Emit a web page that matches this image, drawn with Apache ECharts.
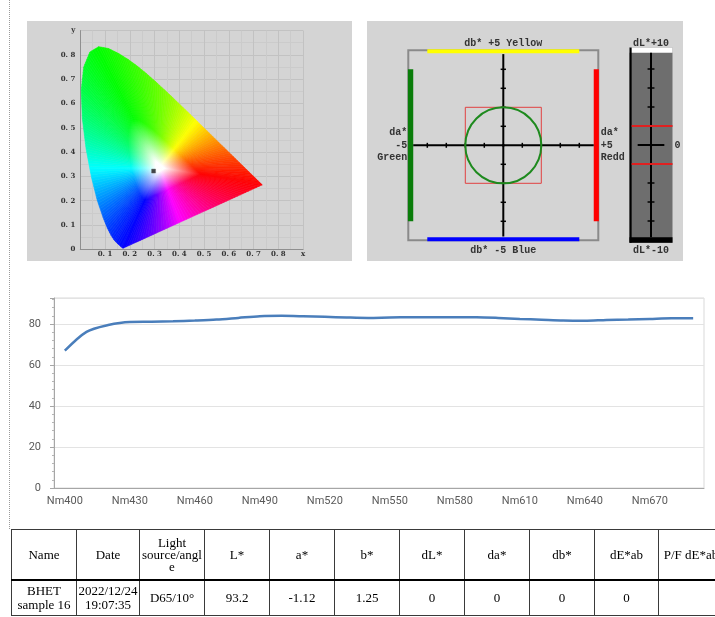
<!DOCTYPE html>
<html>
<head>
<meta charset="utf-8">
<script src="https://cdn.jsdelivr.net/npm/echarts@6/dist/echarts.min.js"></script>
<style>
  html, body { margin: 0; padding: 0; background: #fff; width: 715px; height: 617px; overflow: hidden; }
  .panel { position: absolute; background: #d4d4d4; }
  #dots { position: absolute; left: 9px; top: 0; height: 529px; border-left: 1px dotted #9a9a9a; }
  #chart { position: absolute; left: 0; top: 0; width: 715px; height: 617px; }
  #tbl { position: absolute; left: 11px; top: 529px; border-collapse: collapse; table-layout: fixed; width: 712px;
         font-family: "Liberation Serif", "Times New Roman", serif; font-size: 13px; color: #000; }
  #tbl td { border: 1px solid #3a3a3a; text-align: center; vertical-align: middle; padding: 0 1px;
            word-break: normal; overflow-wrap: anywhere; }
  #tbl tr.head td { height: 49px; line-height: 12px; border-bottom: 2px solid #000; }
  #tbl tr.row td { height: 34px; line-height: 14px; }
</style>
</head>
<body>
<div class="panel" style="left:27px;top:21px;width:325px;height:240px;"></div>
<div class="panel" style="left:367px;top:21px;width:316px;height:240px;"></div>
<div id="dots"></div>
<div id="chart"></div>
<table id="tbl"></table>
<script>
// spectral curve
const waveNm = [400, 410, 420, 430, 440, 450, 460, 470, 480, 490, 500, 510, 520, 530, 540,
                550, 560, 570, 580, 590, 600, 610, 620, 630, 640, 650, 660, 670, 680, 690];
const reflectance = [67.0, 76.2, 79.5, 81.0, 81.1, 81.3, 81.7, 82.2, 83.0, 83.8, 84.0, 83.8, 83.5, 83.2, 83.0,
                     83.2, 83.3, 83.3, 83.3, 83.3, 83.0, 82.5, 82.1, 81.7, 81.6, 82.0, 82.2, 82.5, 82.8, 82.8];
const categories = waveNm.map(w => 'Nm' + w);

// CIE 1931 spectral locus (380 .. 700 nm)
const locusX = [0.1741, 0.1733, 0.1714, 0.1689, 0.1644, 0.1566, 0.1440, 0.1355, 0.1241, 0.1096, 0.0913,
                0.0687, 0.0454, 0.0235, 0.0082, 0.0039, 0.0139, 0.0389, 0.0743, 0.1142, 0.1547, 0.1929,
                0.2296, 0.2658, 0.3016, 0.3373, 0.3731, 0.4087, 0.4441, 0.4788, 0.5125, 0.5448, 0.5752,
                0.6029, 0.6270, 0.6658, 0.6915, 0.7079, 0.7190, 0.7260, 0.7347];
const locusY = [0.0050, 0.0048, 0.0051, 0.0069, 0.0109, 0.0177, 0.0297, 0.0399, 0.0578, 0.0868, 0.1327,
                0.2007, 0.2950, 0.4127, 0.5384, 0.6548, 0.7502, 0.8120, 0.8338, 0.8262, 0.8059, 0.7816,
                0.7543, 0.7243, 0.6923, 0.6589, 0.6245, 0.5896, 0.5547, 0.5202, 0.4866, 0.4544, 0.4242,
                0.3965, 0.3725, 0.3340, 0.3083, 0.2920, 0.2809, 0.2740, 0.2653];
const sampleXY = [0.296, 0.322];

// colour difference
const sampleDa = [0];
const sampleDb = [0];
const sampleDL = [0];
const abTicks = [-4, -3, -2, -1, 1, 2, 3, 4];
const dLTicks = [-8, -6, -4, 4, 6, 8];
const abTolerance = 2;
const dLTolerance = 2;

// table
const tableHead = ['Name', 'Date', 'Light source/\u2060angle', 'L*', 'a*', 'b*', 'dL*', 'da*', 'db*', 'dE*ab', 'P/F dE*ab'];
const tableRow = ['BHET sample 16', '2022/12/24 19:07:35', 'D65/10°', '93.2', '-1.12', '1.25', '0', '0', '0', '0', ''];
const colWidths = [65, 63, 65, 65, 65, 65, 65, 65, 65, 64, 65];

// build table
(function () {
  const t = document.getElementById('tbl');
  let h = '<colgroup>' + colWidths.map(w => '<col style="width:' + w + 'px">').join('') + '</colgroup>';
  h += '<tr class="head">' + tableHead.map(s => '<td>' + s + '</td>').join('') + '</tr>';
  h += '<tr class="row">' + tableRow.map(s => '<td>' + s + '</td>').join('') + '</tr>';
  t.innerHTML = h;
})();

// hue by angle round the white point
const whiteXY = [0.32, 0.335];
const hueAngles = [-9, 52, 117, 180, 246, 290, 351];
const hueStops = [0, 60, 120, 180, 240, 300, 360];
function hueAt(angle) {
  let a = angle;
  while (a < hueAngles[0]) a += 360;
  while (a >= hueAngles[0] + 360) a -= 360;
  for (let k = 0; k < hueAngles.length - 1; k++) {
    if (a >= hueAngles[k] && a <= hueAngles[k + 1]) {
      const t = (a - hueAngles[k]) / (hueAngles[k + 1] - hueAngles[k]);
      return hueStops[k] + t * (hueStops[k + 1] - hueStops[k]);
    }
  }
  return 0;
}
function lerp(a, b, t) { return [a[0] + (b[0] - a[0]) * t, a[1] + (b[1] - a[1]) * t]; }

function renderGamut(params, api) {
  const n = locusX.length;
  const i = params.dataIndex, j = (i + 1) % n;
  const a = [locusX[i], locusY[i]], b = [locusX[j], locusY[j]];
  const c = api.coord(whiteXY);
  const pa = api.coord(a), pb = api.coord(b);
  const steps = Math.max(1, Math.ceil(Math.hypot(pb[0] - pa[0], pb[1] - pa[1]) / 3));
  const children = [];
  for (let s = 0; s < steps; s++) {
    const q0 = lerp(pa, pb, s / steps), q1 = lerp(pa, pb, (s + 1) / steps), qm = lerp(pa, pb, (s + 0.5) / steps);
    const dm = lerp(a, b, (s + 0.5) / steps);
    const ang = Math.atan2(dm[1] - whiteXY[1], dm[0] - whiteXY[0]) * 180 / Math.PI;
    const col = 'hsl(' + hueAt(ang).toFixed(1) + ',100%,50%)';
    const grad = new echarts.graphic.LinearGradient(c[0], c[1], qm[0], qm[1], [
      { offset: 0, color: '#ffffff' }, { offset: 0.05, color: '#ffffff' },
      { offset: 0.4, color: col }, { offset: 1, color: col }], true);
    children.push({ type: 'polygon', shape: { points: [c, q0, q1] }, style: { fill: grad, stroke: grad, lineWidth: 0.6 } });
  }
  return { type: 'group', children: children };
}

const labelFont = 'bold 10px "Liberation Mono", "DejaVu Sans Mono", monospace';
function txt(text, x, y, align) {
  return { type: 'text', style: { text: text, x: x, y: y, font: labelFont, fill: '#333',
    textAlign: align, align: align, textVerticalAlign: 'middle', verticalAlign: 'middle' } };
}

function renderDiff(params, api) {
  const P = (x, y) => api.coord([x, y]);
  const rect = (x0, y0, x1, y1, style) => { const p0 = P(x0, y1), p1 = P(x1, y0);
    return { type: 'rect', shape: { x: p0[0], y: p0[1], width: p1[0] - p0[0], height: p1[1] - p0[1] }, style: style }; };
  const line = (x0, y0, x1, y1, style) => { const p = P(x0, y0), q = P(x1, y1);
    return { type: 'line', shape: { x1: p[0], y1: p[1], x2: q[0], y2: q[1] }, style: style }; };
  const ch = [];
  ch.push(rect(-5, -5, 5, 5, { fill: 'none', stroke: '#8a8a8a', lineWidth: 2 }));
  ch.push(rect(-4, 4.84, 4, 5.05, { fill: '#ffff00' }));
  ch.push(rect(-4, -5.05, 4, -4.84, { fill: '#0000ff' }));
  ch.push(rect(-5.02, -4, -4.74, 4, { fill: '#0a7d0a' }));
  ch.push(rect(4.76, -4, 5.03, 4, { fill: '#ff0000' }));
  const k = { stroke: '#000', lineWidth: 2 };
  ch.push(line(-4.74, 0, 4.76, 0, k));
  ch.push(line(0, -4.8, 0, 4.8, k));
  const tk = { stroke: '#000', lineWidth: 1.5 };
  abTicks.forEach(t => {
    ch.push(line(t, -0.13, t, 0.13, tk));
    ch.push(line(-0.14, t, 0.14, t, tk));
  });
  ch.push(rect(-abTolerance, -abTolerance, abTolerance, abTolerance, { fill: 'none', stroke: '#e04040', lineWidth: 1 }));
  const c0 = P(0, 0), r = api.size([abTolerance, abTolerance])[0];
  ch.push({ type: 'circle', shape: { cx: c0[0], cy: c0[1], r: r }, style: { fill: 'none', stroke: '#1e8a1e', lineWidth: 2 } });
  const top = P(0, 5), bot = P(0, -5), lft = P(-5, 0), rgt = P(5, 0);
  ch.push(txt('db* +5 Yellow', top[0], top[1] - 7, 'center'));
  ch.push(txt('db* -5 Blue', bot[0], bot[1] + 10, 'center'));
  ch.push(txt('da*', lft[0] - 1, lft[1] - 13, 'right'));
  ch.push(txt('-5', lft[0] - 1, lft[1], 'right'));
  ch.push(txt('Green', lft[0] - 1, lft[1] + 12.5, 'right'));
  ch.push(txt('da*', rgt[0] + 2.5, rgt[1] - 13, 'left'));
  ch.push(txt('+5', rgt[0] + 2.5, rgt[1], 'left'));
  ch.push(txt('Redd', rgt[0] + 2.5, rgt[1] + 12.5, 'left'));
  return { type: 'group', children: ch };
}

function renderDL(params, api) {
  const P = (x, y) => api.coord([x, y]);
  const rect = (x0, y0, x1, y1, style) => { const p0 = P(x0, y1), p1 = P(x1, y0);
    return { type: 'rect', shape: { x: p0[0], y: p0[1], width: p1[0] - p0[0], height: p1[1] - p0[1] }, style: style }; };
  const line = (x0, y0, x1, y1, style) => { const p = P(x0, y0), q = P(x1, y1);
    return { type: 'line', shape: { x1: p[0], y1: p[1], x2: q[0], y2: q[1] }, style: style }; };
  const ch = [];
  ch.push(rect(0, -10.28, 1, 10.26, { fill: '#6e6e6e' }));
  ch.push(rect(0, 9.7, 1, 10.26, { fill: '#ffffff' }));
  ch.push(rect(0, -10.28, 1, -9.72, { fill: '#000000' }));
  ch.push(rect(0, -10.28, 0.05, 10.26, { fill: '#000000' }));
  ch.push(line(0.5, -9.72, 0.5, 9.7, { stroke: '#000', lineWidth: 2 }));
  ch.push(line(0.19, 0, 0.81, 0, { stroke: '#000', lineWidth: 2 }));
  dLTicks.forEach(t => ch.push(line(0.42, t, 0.58, t, { stroke: '#000', lineWidth: 1.5 })));
  [-dLTolerance, dLTolerance].forEach(t => ch.push(line(0.05, t, 1, t, { stroke: '#e02020', lineWidth: 2 })));
  const top = P(0.5, 10), bot = P(0.5, -10), zr = P(1, 0);
  ch.push(txt('dL*+10', top[0], top[1] - 6.5, 'center'));
  ch.push(txt('dL*-10', bot[0], bot[1] + 10.5, 'center'));
  ch.push(txt('0', zr[0] + 2, zr[1], 'left'));
  return { type: 'group', children: ch };
}

const cieLabel = { fontSize: 7, color: '#333', fontFamily: 'DejaVu Serif', fontWeight: 'bold' };
const axisFont = 'Roboto';

const option = {
  animation: false,
  grid: [
    { left: 80.3, top: 30.6, width: 222.8, height: 218.7 },
    { left: 408.3, top: 50.3, width: 190, height: 190 },
    { left: 629.5, top: 50, width: 43, height: 190 },
    { left: 54, top: 298, right: 11, height: 190, show: true, borderColor: '#d9d9d9', borderWidth: 1 }
  ],
  xAxis: [
    { gridIndex: 0, type: 'value', min: 0, max: 0.9, interval: 0.1,
      axisLine: { show: true, lineStyle: { color: '#8f8f8f' } }, axisTick: { show: false },
      axisLabel: Object.assign({ margin: 1, showMaxLabel: true,
        formatter: v => v > 0.85 ? 'x' : (v < 0.05 ? '' : v.toFixed(1).replace('.', '. ')) }, cieLabel),
      splitLine: { show: true, lineStyle: { color: '#c2c2c2' } },
      minorTick: { show: false, splitNumber: 2 }, minorSplitLine: { show: true, lineStyle: { color: '#cbcbcb' } } },
    { gridIndex: 1, type: 'value', min: -5, max: 5, show: false },
    { gridIndex: 2, type: 'value', min: 0, max: 1, show: false },
    { gridIndex: 3, type: 'category', data: categories, boundaryGap: true,
      axisLine: { lineStyle: { color: '#a6a6a6' } },
      axisTick: { alignWithLabel: true, interval: 0, length: 4, lineStyle: { color: '#a6a6a6' } },
      axisLabel: { interval: 2, color: '#595959', fontSize: 11, fontFamily: axisFont, margin: 8 } }
  ],
  yAxis: [
    { gridIndex: 0, type: 'value', min: 0, max: 0.9, interval: 0.1,
      axisLine: { show: true, lineStyle: { color: '#8f8f8f' } }, axisTick: { show: false },
      axisLabel: Object.assign({ margin: 5, showMaxLabel: true,
        formatter: v => v > 0.85 ? 'y' : (v < 0.05 ? '0' : v.toFixed(1).replace('.', '. ')) }, cieLabel),
      splitLine: { show: true, lineStyle: { color: '#c2c2c2' } },
      minorTick: { show: false, splitNumber: 2 }, minorSplitLine: { show: true, lineStyle: { color: '#cbcbcb' } } },
    { gridIndex: 1, type: 'value', min: -5, max: 5, show: false },
    { gridIndex: 2, type: 'value', min: -10, max: 10, show: false },
    { gridIndex: 3, type: 'value', min: 0, max: 92.7, interval: 20,
      axisLine: { show: true, lineStyle: { color: '#a6a6a6' } },
      axisTick: { show: true, length: 4, lineStyle: { color: '#a6a6a6' } },
      minorTick: { show: true, splitNumber: 5, length: 2, lineStyle: { color: '#b5b5b5' } },
      axisLabel: { showMaxLabel: false, color: '#595959', fontSize: 11, fontFamily: axisFont, margin: 13 },
      splitLine: { lineStyle: { color: '#e3e3e3' } } }
  ],
  series: [
    { type: 'custom', xAxisIndex: 0, yAxisIndex: 0, silent: true, z: 2,
      data: locusX.map((x, i) => [x, locusY[i]]), renderItem: renderGamut },
    { type: 'scatter', xAxisIndex: 0, yAxisIndex: 0, silent: true, z: 5,
      data: [sampleXY], symbol: 'rect', symbolSize: 4, itemStyle: { color: '#1a1a1a', borderColor: '#666', borderWidth: 0.5 } },
    { type: 'custom', xAxisIndex: 1, yAxisIndex: 1, silent: true, z: 2,
      data: [[0, 0]], renderItem: renderDiff },
    { type: 'scatter', xAxisIndex: 1, yAxisIndex: 1, silent: true, z: 5,
      data: sampleDa.map((v, i) => [v, sampleDb[i]]), symbolSize: 3, itemStyle: { color: '#000' } },
    { type: 'custom', xAxisIndex: 2, yAxisIndex: 2, silent: true, z: 2,
      data: [[0, 0]], renderItem: renderDL },
    { type: 'scatter', xAxisIndex: 2, yAxisIndex: 2, silent: true, z: 5,
      data: sampleDL.map(v => [0.5, v]), symbolSize: 3, itemStyle: { color: '#000' } },
    { type: 'line', xAxisIndex: 3, yAxisIndex: 3, data: reflectance, smooth: 0.3, showSymbol: false,
      lineStyle: { color: '#4a7ebb', width: 2.5 }, itemStyle: { color: '#4a7ebb' } }
  ]
};

const chart = echarts.init(document.getElementById('chart'));
chart.setOption(option);
</script>
</body>
</html>
